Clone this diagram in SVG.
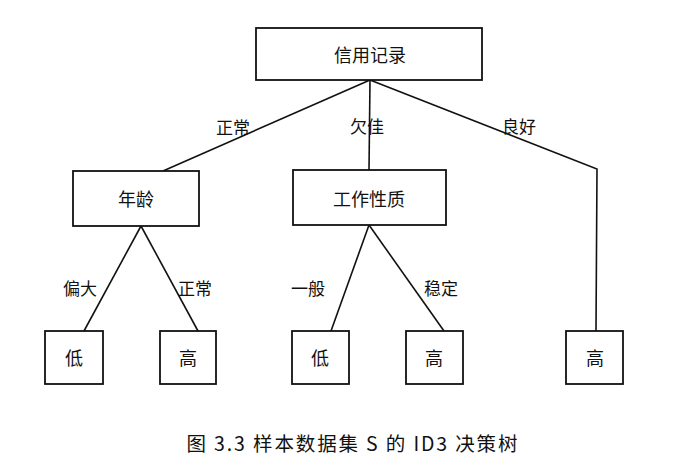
<svg xmlns="http://www.w3.org/2000/svg" width="683" height="463" viewBox="0 0 683 463">
<style>
.box{fill:#fff;stroke:#111;stroke-width:1.8}
.edge{fill:none;stroke:#111;stroke-width:1.6}
text{font-family:"Noto Sans CJK SC","Liberation Sans",sans-serif;fill:#111;text-anchor:middle;dominant-baseline:central}
.n{font-size:18px}
.l{font-size:17px}
.cap{font-size:19.5px}
</style>
<rect width="683" height="463" fill="#fff"/>
<g id="connectors">
<line class="edge" x1="370" y1="80" x2="163" y2="171"/>
<line class="edge" x1="370" y1="80" x2="369" y2="170"/>
<polyline class="edge" points="370,80 597,169 596,331"/>
<line class="edge" x1="141" y1="226" x2="84" y2="331"/>
<line class="edge" x1="141" y1="226" x2="198" y2="331"/>
<line class="edge" x1="369" y1="225" x2="331" y2="331"/>
<line class="edge" x1="369" y1="225" x2="444" y2="331"/>
<text class="l" x="233" y="126">正常</text>
<text class="l" x="367" y="125">欠佳</text>
<text class="l" x="519" y="125">良好</text>
<text class="l" x="80" y="287">偏大</text>
<text class="l" x="195" y="287">正常</text>
<text class="l" x="308" y="287">一般</text>
<text class="l" x="441" y="287">稳定</text>
</g>
<g id="root">
<rect class="box" x="256" y="28" width="226" height="52"/>
<text class="n" x="370" y="54">信用记录</text>
</g>
<g id="age">
<rect class="box" x="73" y="171" width="126" height="55"/>
<text class="n" x="136" y="198">年龄</text>
</g>
<g id="job">
<rect class="box" x="293" y="170" width="153" height="55"/>
<text class="n" x="369" y="198">工作性质</text>
</g>
<g id="leaf1">
<rect class="box" x="45" y="331" width="58" height="53"/>
<text class="n" x="74" y="357">低</text>
</g>
<g id="leaf2">
<rect class="box" x="160" y="331" width="56" height="53"/>
<text class="n" x="188" y="357">高</text>
</g>
<g id="leaf3">
<rect class="box" x="292" y="331" width="57" height="53"/>
<text class="n" x="320" y="357">低</text>
</g>
<g id="leaf4">
<rect class="box" x="406" y="331" width="57" height="53"/>
<text class="n" x="434" y="357">高</text>
</g>
<g id="leaf5">
<rect class="box" x="566" y="331" width="57" height="53"/>
<text class="n" x="595" y="357">高</text>
</g>
<text class="cap" x="352" y="442" textLength="331" lengthAdjust="spacing">图 3.3 样本数据集 S 的 ID3 决策树</text>
</svg>
